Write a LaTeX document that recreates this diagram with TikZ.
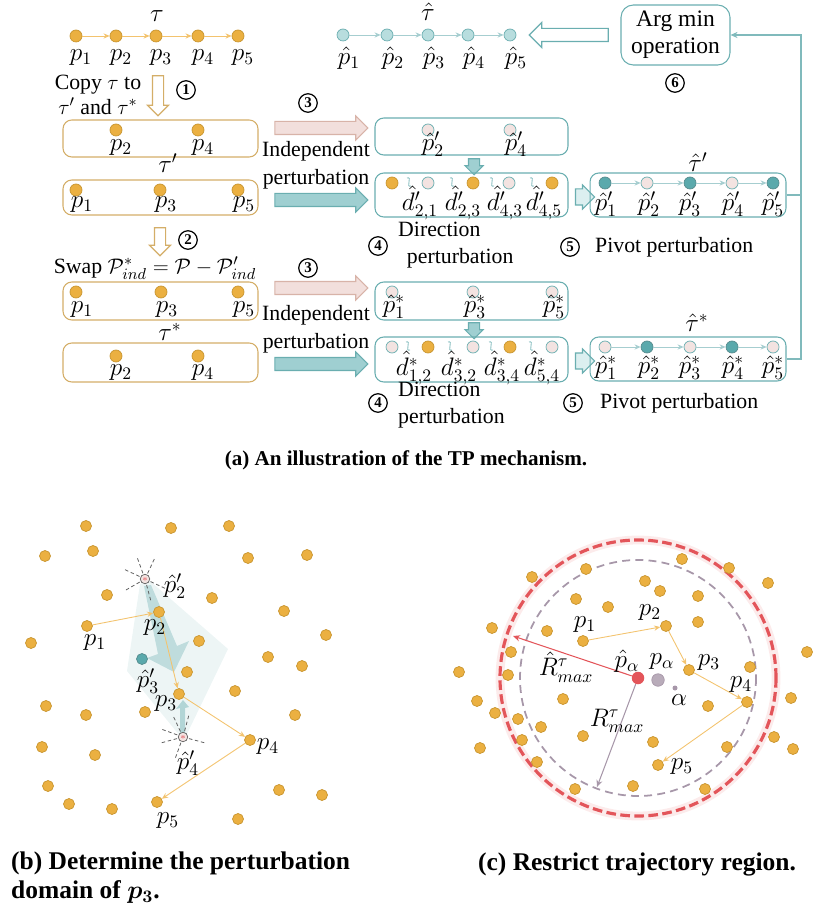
\documentclass[tikz,border=0pt]{standalone}
\usepackage{fontspec}
\setmainfont{Liberation Serif}
\usepackage{tikz}
\usetikzlibrary{shapes, arrows.meta, positioning, calc}

\definecolor{dotor}{HTML}{EBB041}
\definecolor{dotorline}{HTML}{C89530}
\definecolor{boxor}{HTML}{D4AE68}
\definecolor{trajor}{HTML}{F3C36E}
\definecolor{tealline}{HTML}{6AAEB0}
\definecolor{teallight}{HTML}{B8DDDE}
\definecolor{tealdark}{HTML}{5AA9AC}
\definecolor{tealfill}{HTML}{9FCFD1}
\definecolor{tealpale}{HTML}{DCEFF0}
\definecolor{pinkdot}{HTML}{F3E3E1}
\definecolor{pinkfill}{HTML}{F2DFDC}
\definecolor{pinkline}{HTML}{D8B3A8}
\definecolor{ringred}{HTML}{E3555A}
\definecolor{ringgray}{HTML}{A797A9}
\definecolor{raygray}{HTML}{5F5F5F}

\begin{document}
\begin{tikzpicture}[x=0.02cm, y=-0.02cm,
    every node/.style={font=\fontsize{12.4}{14.2}\selectfont},
    mlab/.style={font=\fontsize{13.6}{14}\selectfont, inner sep=1pt},
    odot/.style={circle, fill=dotor, draw=dotorline, line width=0.4pt, minimum size=0.24cm, inner sep=0pt},
    tdot/.style={odot, fill=teallight, draw=tealline},
    pdot/.style={odot, fill=pinkdot, draw=tealline},
    ddot/.style={odot, fill=tealdark, draw=tealline!80!black},
    sdot/.style={odot, minimum size=0.22cm},
    obox/.style={rectangle, draw=boxor, line width=0.6pt, rounded corners=5pt, minimum width=3.9cm},
    tbox/.style={rectangle, draw=tealline, line width=0.6pt, rounded corners=5pt, minimum width=3.86cm},
    argbox/.style={rectangle, draw=tealline, line width=0.6pt, rounded corners=7pt, minimum width=2.18cm, minimum height=1.2cm, align=center, font=\fontsize{13.4}{15.3}\selectfont},
    traj/.style={draw=trajor, line width=0.5pt, -{Stealth[length=3.5pt, width=3pt]}},
    ttraj/.style={draw=tealline!60, line width=0.5pt, -{Stealth[length=3.5pt, width=3pt]}},
    fbline/.style={draw=tealline!85, line width=0.6pt},
    cnum/.style={circle, draw, line width=0.7pt, inner sep=0pt, minimum size=0.37cm, font=\bfseries\fontsize{8.5}{8.5}\selectfont},
    fat/.style={single arrow, inner xsep=0pt, inner ysep=0.12cm, single arrow head extend=0.11cm, line width=0.6pt},
    pinkarrow/.style={fat, fill=pinkfill, draw=pinkline, minimum height=1.86cm},
    tealarrow/.style={fat, fill=tealfill, draw=tealline, minimum height=1.86cm},
    palearrow/.style={fat, fill=tealpale, draw=tealline, minimum height=0.38cm, inner ysep=0.15cm, single arrow head extend=0.08cm},
    droparrow/.style={fat, fill=tealfill, draw=tealline, minimum height=0.32cm, inner ysep=0.1cm, single arrow head extend=0.07cm, rotate=-90},
    hollow/.style={fat, fill=white, line width=0.7pt, inner ysep=0.1cm, single arrow head extend=0.1cm},
    squig/.style={draw=tealline!80, line width=0.5pt},
    ray/.style={draw=raygray, line width=0.45pt, dash pattern=on 2pt off 1.5pt},
    twoline/.style={align=center, font=\fontsize{12.4}{16}\selectfont},
    captext/.style={font=\bfseries\fontsize{14.5}{16}\selectfont}
  ]
  \useasboundingbox (0,0) rectangle (812,908);

  % ---------- (a) top: tau and hat tau ----------
  \foreach \x [count=\i] in {76,116,156,198,238}
    \node[odot] (t\i) at (\x,36) {};
  \foreach \i/\j in {1/2,2/3,3/4,4/5}
    \draw[traj] (t\i) -- (t\j);
  \foreach \x [count=\i] in {76,116,156,198,238}
    \node[mlab] (tl\i) at (\x+5,58) {$p_\i$};
  \node[mlab] (tau) at (157,16) {$\tau$};

  \foreach \x [count=\i] in {343,387,428,468,510}
    \node[tdot] (h\i) at (\x,35) {};
  \foreach \i/\j in {1/2,2/3,3/4,4/5}
    \draw[ttraj] (h\i) -- (h\j);
  \foreach \x [count=\i] in {343,387,428,468,510}
    \node[mlab] (hl\i) at (\x+6,58) {$\hat{p}_\i$};
  \node[mlab] (tauhat) at (428,12) {$\hat{\tau}$};

  \node[argbox] (argmin) at (675.5,35) {Arg min\\operation};
  \node[cnum] (n6) at (675,83) {6};
  \node[hollow, draw=tealline, minimum height=1.58cm, inner ysep=0.12cm, single arrow head extend=0.12cm, rotate=180] (back) at (572,35) {};

  % ---------- (a) copy into tau' ----------
  \node[align=center] (copy) at (98,95) {Copy $\tau$ to\\$\tau'$ and $\tau^*$};
  \node[hollow, draw=boxor, minimum height=0.8cm, rotate=-90] (cp1) at (158,93) {};
  \node[cnum] (n1) at (186,90) {1};

  \node[obox, minimum height=0.74cm] (b1) at (160.5,138.5) {};
  \node[odot] (b1a) at (116,130) {};
  \node[odot] (b1b) at (198,130) {};
  \node[mlab] (b1la) at (121,148) {$p_2$};
  \node[mlab] (b1lb) at (203,148) {$p_4$};
  \node[mlab] (taup) at (168,163) {$\tau'$};
  \node[obox, minimum height=0.7cm] (b2) at (160.5,197.5) {};
  \foreach \x/\k [count=\i] in {76/1,160/3,238/5} {
    \node[odot] (b2\i) at (\x,190) {};
    \node[mlab] (b2l\i) at (\x+6,205) {$p_\k$};
  }

  \node[cnum] (n3a) at (308,103) {3};
  \node[pinkarrow] (pa1) at (318,128) {};
  \node[twoline] (ind1) at (316,165) {Independent\\perturbation};
  \node[tealarrow] (ta1) at (318,200) {};

  \node[tbox, minimum height=0.74cm] (b3) at (471.5,136.5) {};
  \node[pdot] (b3a) at (428,130) {};
  \node[pdot] (b3b) at (510,130) {};
  \node[mlab] (b3la) at (433,144) {$\hat{p}'_2$};
  \node[mlab] (b3lb) at (516,144) {$\hat{p}'_4$};
  \node[droparrow] (dr1) at (474,164) {};

  \node[tbox, minimum height=0.88cm] (b4) at (471.5,195) {};
  \foreach \x/\s [count=\i] in {392/odot,428/pdot,473/odot,509/pdot,552/odot}
    \node[\s] (b4\i) at (\x,183) {};
  \foreach \x in {409,452,492,532}
    \draw[squig] (\x-2,178) .. controls (\x+4,176) and (\x-4,188) .. (\x+2,186);
  \node[mlab] (d1) at (420,203) {$\hat{d}'_{2,1}$};
  \node[mlab] (d2) at (463,203) {$\hat{d}'_{2,3}$};
  \node[mlab] (d3) at (505,203) {$\hat{d}'_{4,3}$};
  \node[mlab] (d4) at (544,203) {$\hat{d}'_{4,5}$};

  \node[palearrow] (pl1) at (581,197) {};
  \node[mlab] (tauhp) at (698,162) {$\hat{\tau}'$};
  \node[tbox, minimum width=3.92cm, minimum height=0.88cm] (b5) at (688,195) {};
  \foreach \x/\s [count=\i] in {605/ddot,647/pdot,690/ddot,732/pdot,773/ddot}
    \node[\s] (b5\i) at (\x,183) {};
  \foreach \i/\j in {1/2,2/3,3/4,4/5}
    \draw[ttraj] (b5\i) -- (b5\j);
  \foreach \x [count=\i] in {606,649,690,733,773}
    \node[mlab] (b5l\i) at (\x,204) {$\hat{p}'_\i$};

  \node[cnum] (n4a) at (378,246) {4};
  \node[align=left, anchor=west, font=\fontsize{12.4}{15}\selectfont] (dir1) at (392,245) {Direction\\\hspace{5pt}perturbation};
  \node[cnum] (n5a) at (570,247) {5};
  \node[anchor=west] (piv1) at (589,247) {Pivot perturbation};

  % ---------- (a) swap into tau* ----------
  \node[hollow, draw=boxor, minimum height=0.56cm, rotate=-90] (cp2) at (160,239) {};
  \node[cnum] (n2) at (188,240) {2};
  \node (swap) at (155,268) {Swap $\mathcal{P}^*_{ind}=\mathcal{P}-\mathcal{P}'_{ind}$};

  \node[obox, minimum height=0.76cm] (b6) at (160.5,301) {};
  \foreach \x/\k [count=\i] in {76/1,161/3,238/5} {
    \node[odot] (b6\i) at (\x,292) {};
    \node[mlab] (b6l\i) at (\x+6,310) {$p_\k$};
  }
  \node[mlab] (taus) at (170,332) {$\tau^*$};
  \node[obox, minimum height=0.78cm] (b7) at (160.5,362.5) {};
  \node[odot] (b7a) at (116,356) {};
  \node[odot] (b7b) at (198,356) {};
  \node[mlab] (b7la) at (121,373) {$p_2$};
  \node[mlab] (b7lb) at (203,373) {$p_4$};

  \node[cnum] (n3b) at (308,268) {3};
  \node[pinkarrow] (pa2) at (318,288) {};
  \node[twoline] (ind2) at (316,329) {Independent\\perturbation};
  \node[tealarrow] (ta2) at (318,364) {};

  \node[tbox, minimum height=0.76cm] (b8) at (471.5,301) {};
  \foreach \x/\k [count=\i] in {392/1,473/3,552/5} {
    \node[pdot] (b8\i) at (\x,292) {};
    \node[mlab] (b8l\i) at (\x+2,307) {$\hat{p}^*_\k$};
  }
  \node[droparrow] (dr2) at (474,328) {};

  \node[tbox, minimum height=0.9cm] (b9) at (471.5,359.5) {};
  \foreach \x/\s [count=\i] in {392/pdot,428/odot,473/pdot,510/odot,552/pdot}
    \node[\s] (b9\i) at (\x,347) {};
  \foreach \x in {408,450,491,531}
    \draw[squig] (\x-2,342) .. controls (\x+4,340) and (\x-4,352) .. (\x+2,350);
  \node[mlab] (e1) at (414,368) {$\hat{d}^*_{1,2}$};
  \node[mlab] (e2) at (459,368) {$\hat{d}^*_{3,2}$};
  \node[mlab] (e3) at (502,368) {$\hat{d}^*_{3,4}$};
  \node[mlab] (e4) at (542,368) {$\hat{d}^*_{5,4}$};

  \node[palearrow] (pl2) at (581,361) {};
  \node[mlab] (tauhs) at (697,323) {$\hat{\tau}^*$};
  \node[tbox, minimum width=3.92cm, minimum height=0.88cm] (b10) at (688,359) {};
  \foreach \x/\s [count=\i] in {605/pdot,647/ddot,690/pdot,732/ddot,773/pdot}
    \node[\s] (b10\i) at (\x,347) {};
  \foreach \i/\j in {1/2,2/3,3/4,4/5}
    \draw[ttraj] (b10\i) -- (b10\j);
  \foreach \x [count=\i] in {606,649,690,733,773}
    \node[mlab] (b10l\i) at (\x,368) {$\hat{p}^*_\i$};

  \node[cnum] (n4b) at (378,403) {4};
  \node[align=left, anchor=west, font=\fontsize{12.4}{15.5}\selectfont] (dir2) at (392,405) {Direction\\perturbation};
  \node[cnum] (n5b) at (573,403) {5};
  \node[anchor=west] (piv2) at (594,403) {Pivot perturbation};

  % feedback to arg min
  \coordinate (fb) at (801,35);
  \draw[fbline] (b5.east) -- (b5.east -| fb);
  \draw[fbline, -{Stealth[length=4pt, width=3.5pt]}] (b10.east) -| (fb) -- (argmin.east);

  \node[font=\bfseries\fontsize{12}{14}\selectfont] (capa) at (406,460) {(a) An illustration of the TP mechanism.};

  % ---------- (b) perturbation domain ----------
  \fill[tealline, opacity=0.12] (140,584) -- (150,581) -- (228,649) -- (186,736) -- (180,736) -- (127,671) -- cycle;
  \fill[tealline, opacity=0.35] (144,586) -- (151,585) -- (177,646) -- (189,641) -- (174,672) -- (147,658) -- (158,654) -- cycle;
  \fill[tealline, opacity=0.45] (180,734) -- (180,708) -- (176,709) -- (183,700) -- (189,707) -- (185,708) -- (185,734) -- cycle;
  \foreach \x/\y [count=\i] in {86/526,171/528,229/526,45/556,93/551,248/558,307/555,107/595,212/598,284/611,326/635,31/643,199/641,268/657,302/666,187/672,235/691,46/706,86/715,145/712,295/715,42/747,95/755,48/786,69/804,112/809,279/790,322/795,238/819}
    \node[sdot] (bd\i) at (\x,\y) {};
  \foreach \x/\y [count=\i] in {87/626,159/612,179/694,250/740,157/802}
    \node[sdot] (bp\i) at (\x,\y) {};
  \foreach \i/\j in {1/2,2/3,3/4,4/5}
    \draw[traj] (bp\i) -- (bp\j);
  \node[sdot, fill=tealdark, draw=tealline!80!black] (bq3) at (142,659) {};
  \foreach \a in {25,75,150,205,250,295}
    \draw[ray] (145,579) -- ++(\a:24);
  \foreach \a in {15,110,165,200,245,285}
    \draw[ray] (183,737) -- ++(\a:24);
  \node[circle, draw=raygray, fill=pinkdot, minimum size=0.19cm, inner sep=0pt] (bs2) at (145,579) {\color{ringred}\fontsize{5}{5}\selectfont$\ast$};
  \node[circle, draw=raygray, fill=pinkdot, minimum size=0.19cm, inner sep=0pt] (bs4) at (183,737) {\color{ringred}\fontsize{5}{5}\selectfont$\ast$};
  \node[mlab] (bl1) at (95,643) {$p_1$};
  \node[mlab] (bl2) at (155,628) {$p_2$};
  \node[mlab] (bl3) at (166,704) {$p_3$};
  \node[mlab] (bl4) at (268,747) {$p_4$};
  \node[mlab] (bl5) at (168,821) {$p_5$};
  \node[mlab] (blh2) at (175,586) {$\hat{p}'_2$};
  \node[mlab] (blh3) at (148,681) {$\hat{p}'_3$};
  \node[mlab] (blh4) at (188,763) {$\hat{p}'_4$};

  \node[captext, align=left, anchor=west, font=\bfseries\fontsize{14.5}{16.5}\selectfont] (capb) at (5,878) {(b) Determine the perturbation\\domain of {\boldmath$p_3$}.};

  % ---------- (c) restricted region ----------
  \draw[ringred!12, line width=5pt] (638,678) circle[radius=138];
  \draw[ringred, line width=1.8pt, dash pattern=on 5.5pt off 2.5pt] (638,678) circle[radius=138];
  \draw[ringgray, line width=1pt, dash pattern=on 4.5pt off 3pt] (638,678) circle[radius=118];
  \foreach \x/\y [count=\i] in {532/577,586/569,682/559,729/568,768/583,645/581,660/591,698/596,576/599,608/607,492/628,547/631,698/622,511/652,807/652,459/672,508/675,750/667,477/701,563/699,495/713,708/706,791/698,518/719,541/727,583/736,653/742,522/740,774/737,727/747,480/748,793/749,537/762,575/789,633/786,705/789}
    \node[sdot] (cd\i) at (\x,\y) {};
  \foreach \x/\y [count=\i] in {583/641,666/626,689/670,747/702,658/765}
    \node[sdot] (cp\i) at (\x,\y) {};
  \foreach \i/\j in {1/2,2/3,3/4,4/5}
    \draw[traj] (cp\i) -- (cp\j);
  \node[circle, fill=ringred, minimum size=0.25cm, inner sep=0pt] (pah) at (638,678) {};
  \node[circle, fill=ringgray!80, draw=ringgray, minimum size=0.25cm, inner sep=0pt] (pa) at (658,680) {};
  \node[circle, fill=ringgray, minimum size=0.1cm, inner sep=0pt] (alp) at (675,688) {};
  \coordinate (rhat) at (513,636);
  \coordinate (rmax) at (597,787);
  \draw[ringred, line width=0.6pt, -{Stealth[length=4pt, width=3.5pt]}] (pah) -- (rhat);
  \draw[ringgray, line width=0.6pt, -{Stealth[length=4pt, width=3.5pt]}] (pah) -- (rmax);
  \node[mlab] (cl1) at (585,625) {$p_1$};
  \node[mlab] (cl2) at (650,613) {$p_2$};
  \node[mlab] (cl3) at (709,663) {$p_3$};
  \node[mlab] (cl4) at (741,685) {$p_4$};
  \node[mlab] (cl5) at (682,767) {$p_5$};
  \node[mlab] (clph) at (627,661) {$\hat{p}_\alpha$};
  \node[mlab] (clp) at (662,662) {$p_\alpha$};
  \node[mlab] (cla) at (679,700) {$\alpha$};
  \node[mlab] (clrh) at (566,667) {$\hat{R}^\tau_{max}$};
  \node[mlab] (clr) at (617,721) {$R^\tau_{max}$};

  \node[captext] (capc) at (637,864) {(c) Restrict trajectory region.};
\end{tikzpicture}
\end{document}
